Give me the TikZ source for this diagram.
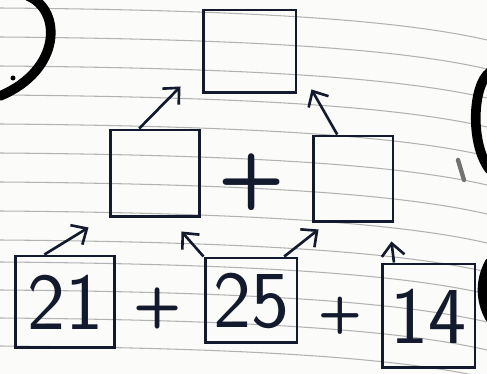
\documentclass[tikz,border=0pt]{standalone}
\usepackage{fontspec}
\usetikzlibrary{arrows.meta,calc}
\definecolor{ink}{HTML}{141A2E}
\definecolor{paper}{HTML}{FBFBF9}
\tikzset{
  box/.style={draw=ink,line width=1.7pt,inner sep=0pt},
  num/.style={text=ink,font=\sffamily\fontsize{46}{46}\selectfont},
  plus/.style={text=ink,inner sep=0pt,font=\sffamily},
  arr/.style={draw=ink,line width=1.5pt,-{Straight Barb[length=7pt,width=13pt]}},
  rule/.style={draw=black!30,line width=0.6pt},
  blob/.style={draw=black,line width=5.5pt,line cap=round}
}
\begin{document}
\begin{tikzpicture}[x=0.02cm,y=-0.02cm]
\fill[paper] (0,0) rectangle (487,374);
\useasboundingbox (0,0) rectangle (487,374);
% ruled paper lines
\foreach \y in {8,37,66,95,124,153,182,211,240,262,290,318,346}{
  \draw[rule] (0,\y) .. controls (250,\y+2) and (400,\y+12) .. (487,\y+32);
}
% ink marks from the page edges
\draw[blob] (28,-4) .. controls (62,10) and (62,70) .. (0,96);
\fill[black] (13,78) circle (2.5);
\draw[blob] (490,72) .. controls (472,85) and (470,145) .. (490,170);
\draw[blob] (490,262) .. controls (480,280) and (480,300) .. (490,318);
\draw[black!55,line width=2.5pt,line cap=round] (458,160) -- (464,180);
% boxes
\node[box,minimum width=1.86cm,minimum height=1.66cm] (top) at (249.5,51.5) {};
\node[box,minimum width=1.80cm,minimum height=1.74cm] (mL) at (155,173.5) {};
\node[box,minimum width=1.60cm,minimum height=1.72cm] (mR) at (353,179) {};
\node[plus,font=\sffamily\bfseries\fontsize{44}{44}\selectfont] (p0) at (252,182) {+};
\node[box,num,minimum width=2.00cm,minimum height=1.84cm] (b21) at (65,302) {21};
\node[plus,font=\sffamily\bfseries\fontsize{32}{32}\selectfont] (p1) at (158,308) {+};
\node[box,num,minimum width=1.84cm,minimum height=1.70cm] (b25) at (251,300.5) {25};
\node[plus,font=\sffamily\bfseries\fontsize{29}{29}\selectfont] (p2) at (340,316) {+};
\node[box,num,minimum width=1.86cm,minimum height=2.08cm] (b14) at (428.5,316) {14};
% arrow tips
\coordinate (e1) at ($(mL.south west)+(-20,9)$);
\coordinate (e2) at ($(mL.south east)+(-20,13)$);
\coordinate (e3) at ($(mR.south west)+(7,6)$);
\coordinate (e4) at ($(mR.south east)+(-3,18)$);
\coordinate (e5) at ($(top.south west)+(-21,-8)$);
\coordinate (e6) at ($(top.south east)+(14,-5)$);
% connectors
\draw[arr] ($(b21.north west)!0.3!(b21.north east)$) -- (e1);
\draw[arr] (b25.north west) -- (e2);
\draw[arr] ($(b25.north west)!0.85!(b25.north east)$) -- (e3);
\draw[arr] ($(b14.north west)!0.14!(b14.north east)$) -- (e4);
\draw[arr] ($(mL.north west)!0.33!(mL.north east)$) -- (e5);
\draw[arr] ($(mR.north west)!0.31!(mR.north east)$) -- (e6);
\end{tikzpicture}
\end{document}
